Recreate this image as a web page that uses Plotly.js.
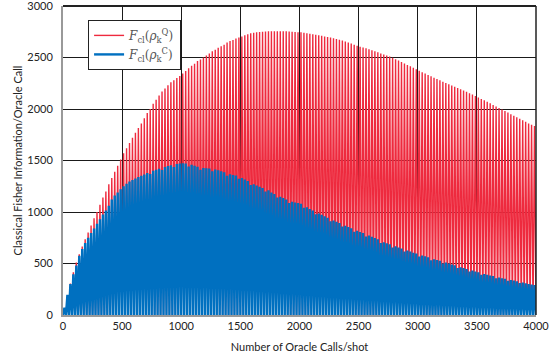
<!DOCTYPE html>
<html>
<head>
<meta charset="utf-8">
<script src="https://cdn.plot.ly/plotly-3.0.1.min.js"></script>
<style>html,body{margin:0;padding:0;background:#fff;}#chart{width:560px;height:363px;}</style>
</head>
<body>
<div id="chart"></div>
<script>
// Peak values of F_cl(rho_k^Q) (red), one per oscillation
const redPeaks = [
  65,190,305,415,510,590,665,735,800,870,
  940,1000,1070,1140,1200,1270,1330,1390,1450,1510,
  1570,1620,1670,1720,1770,1815,1860,1910,1960,2000,
  2050,2090,2130,2170,2200,2230,2260,2280,2300,2320,
  2345,2370,2395,2420,2440,2465,2480,2500,2520,2540,
  2560,2575,2595,2610,2625,2645,2660,2670,2685,2695,
  2705,2715,2725,2735,2740,2745,2748,2750,2752,2754,
  2755,2755,2755,2755,2755,2754,2752,2750,2748,2746,
  2744,2740,2735,2730,2725,2720,2715,2710,2705,2700,
  2695,2688,2680,2672,2664,2655,2645,2635,2625,2615,
  2605,2598,2590,2580,2570,2560,2550,2540,2530,2520,
  2510,2497,2484,2470,2456,2442,2428,2414,2400,2386,
  2372,2358,2344,2330,2317,2304,2291,2278,2265,2252,
  2240,2228,2216,2204,2192,2180,2167,2154,2140,2126,
  2112,2098,2084,2070,2055,2040,2025,2010,1995,1980,
  1965,1950,1935,1920,1905,1890,1875,1860,1848,1836];
// Peak values of F_cl(rho_k^C) (blue), one per oscillation
const bluePeaks = [
  70,195,300,395,480,575,640,700,750,795,
  840,885,930,975,1015,1060,1120,1160,1190,1220,
  1250,1275,1295,1310,1325,1340,1352,1365,1378,1368,
  1400,1410,1420,1408,1438,1446,1454,1438,1466,1470,
  1473,1470,1442,1458,1450,1440,1410,1428,1425,1422,
  1395,1412,1405,1396,1386,1352,1366,1360,1355,1322,
  1330,1315,1300,1262,1270,1258,1246,1234,1200,1210,
  1190,1175,1140,1148,1135,1122,1088,1100,1092,1088,
  1080,1040,1045,1030,1015,978,986,972,958,945,
  910,918,905,892,858,866,853,842,808,818,
  806,795,762,772,760,748,735,698,706,696,
  686,656,666,656,646,616,626,616,605,596,
  568,578,569,560,532,542,534,526,500,509,
  500,491,482,456,464,455,447,422,431,423,
  415,390,398,391,384,377,356,363,357,351,
  332,340,334,328,309,314,307,300,295,290];
const troughValue = 0;
const firstPeakCall = 12.5;   // oracle calls of the first peak
const peakSpacing = 25;       // oracle calls between peaks
const xMax = 4000;
const yTicks = [0, 500, 1000, 1500, 2000, 2500, 3000];
const xTicks = [0, 500, 1000, 1500, 2000, 2500, 3000, 3500, 4000];

function zigzag(peaks){
  const x = [0], y = [troughValue];
  for (let i = 0; i < peaks.length; i++){
    const px = firstPeakCall + i * peakSpacing;
    x.push(px); y.push(peaks[i]);
    x.push(Math.min(px + peakSpacing / 2, xMax)); y.push(troughValue);
  }
  return {x, y};
}
const r = zigzag(redPeaks), b = zigzag(bluePeaks);

const data = [
  {x: r.x, y: r.y, type: 'scatter', mode: 'lines', name: '<i>F</i><sub>cl</sub>(<i>ρ</i><sub>k</sub><sup>Q</sup>)',
   line: {color: '#ee2a3e', width: 1.4}},
  {x: b.x, y: b.y, type: 'scatter', mode: 'lines', name: '<i>F</i><sub>cl</sub>(<i>ρ</i><sub>k</sub><sup>C</sup>)',
   line: {color: '#0070c0', width: 2.4}}
];

const layout = {
  width: 560, height: 363,
  margin: {l: 63, r: 24, t: 6, b: 48, pad: 0},
  paper_bgcolor: '#fff', plot_bgcolor: '#fff',
  font: {family: 'Lato, "Open Sans", sans-serif', size: 11, color: '#222'},
  showlegend: true,
  legend: {x: 0.053, y: 0.955, xanchor: 'left', yanchor: 'top', bgcolor: '#fff',
    bordercolor: '#222', borderwidth: 1, font: {family: '"DejaVu Serif", serif', size: 12, color: '#555'},
    itemwidth: 30},
  xaxis: {range: [0, 4000], tickvals: xTicks, showgrid: true, gridcolor: '#1a1a1a', gridwidth: 1,
    showline: true, linecolor: '#999', linewidth: 2, zeroline: false, ticks: '',
    tickfont: {size: 11, color: '#222'}, ticklabeloverflow: 'allow',
    title: {text: 'Number of Oracle Calls/shot', font: {size: 11, color: '#222'}, standoff: 12}},
  yaxis: {range: [0, 3000], tickvals: yTicks, showgrid: true, gridcolor: '#1a1a1a', gridwidth: 1,
    showline: true, linecolor: '#999', linewidth: 2, zeroline: false, ticks: 'outside', ticklen: 6, tickcolor: '#fff',
    tickfont: {size: 11, color: '#222'}, ticklabeloverflow: 'allow',
    title: {text: 'Classical Fisher Information/Oracle Call', font: {size: 11, color: '#222'}, standoff: 2}},
  shapes: [
    {type: 'line', xref: 'paper', yref: 'paper', x0: 0, x1: 1, y0: 1, y1: 1, line: {color: '#222', width: 2}},
    {type: 'line', xref: 'paper', yref: 'paper', x0: 1, x1: 1, y0: 0, y1: 1, line: {color: '#222', width: 1.5}}
  ]
};

Plotly.newPlot('chart', data, layout, {staticPlot: true, displayModeBar: false});
</script>
</body>
</html>
